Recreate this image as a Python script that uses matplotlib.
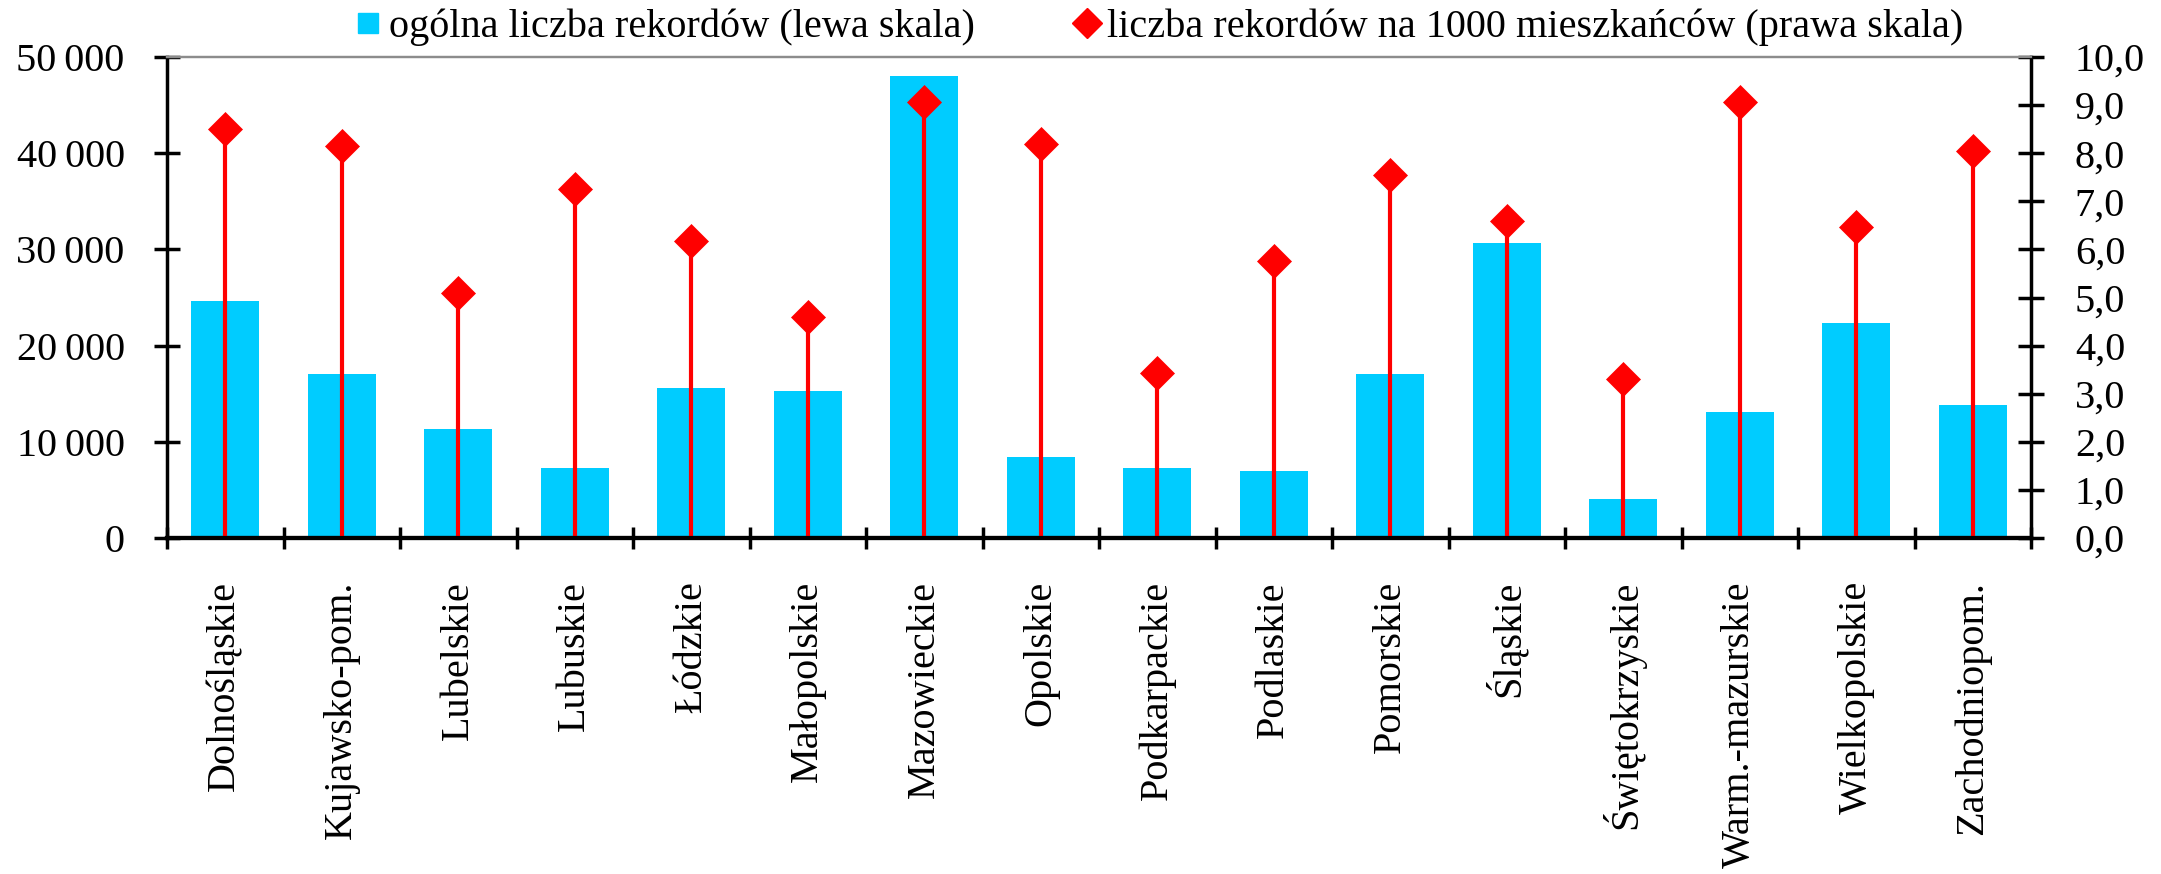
import matplotlib
matplotlib.use("Agg")
import matplotlib.pyplot as plt
from matplotlib.lines import Line2D
from matplotlib.ticker import FixedLocator, FuncFormatter
import numpy as np

plt.rcParams['font.family'] = ['Liberation Serif', 'DejaVu Serif']

regions = ["Dolnośląskie", "Kujawsko-pom.", "Lubelskie", "Lubuskie", "Łódzkie",
           "Małopolskie", "Mazowieckie", "Opolskie", "Podkarpackie", "Podlaskie",
           "Pomorskie", "Śląskie", "Świętokrzyskie", "Warm.-mazurskie",
           "Wielkopolskie", "Zachodniopom."]
total_records = [24600, 17000, 11300, 7300, 15600, 15300, 48000, 8400,
                 7300, 7000, 17000, 30700, 4100, 13100, 22400, 13800]
records_per_1000 = [8.50, 8.15, 5.10, 7.26, 6.17, 4.60, 9.06, 8.20,
                    3.44, 5.75, 7.54, 6.60, 3.30, 9.06, 6.46, 8.04]
left_ticks = [0, 10000, 20000, 30000, 40000, 50000]
right_ticks = [0, 1, 2, 3, 4, 5, 6, 7, 8, 9, 10]
legend_labels = ["ogólna liczba rekordów (lewa skala)",
                 "liczba rekordów na 1000 mieszkańców (prawa skala)"]

BAR_COLOR = "#00CCFF"
RED = "#FF0000"
FS = 29

W, H = 2161, 874
fig = plt.figure(figsize=(W / 100, H / 100), dpi=100)
ax = fig.add_axes([167 / W, 1 - 538 / H, (2031 - 167) / W, (538 - 57) / H])
ax2 = ax.twinx()

x = np.arange(len(regions))
ax.bar(x, total_records, width=0.58, color=BAR_COLOR, zorder=2)
ax2.vlines(x, 0, records_per_1000, color=RED, lw=3, zorder=3)
ax2.plot(x, records_per_1000, linestyle="none", marker="D", ms=17,
         color=RED, mec=RED, mew=0.5, zorder=4, clip_on=False)

ax.set_xlim(-0.5, len(regions) - 0.5)
ax.set_ylim(0, 50000)
ax2.set_ylim(0, 10)

# category labels centred, separators on the boundaries
ax.set_xticks(x)
ax.set_xticklabels(regions, rotation=90, va="top", ha="center")
ax.xaxis.set_minor_locator(FixedLocator(np.arange(-0.5, len(regions), 1.0)))
ax.tick_params(axis="x", which="major", length=0, pad=31, labelsize=FS)
ax.tick_params(axis="x", which="minor", direction="inout", length=16.5,
               width=2.5, color="black")

ax.yaxis.set_major_locator(FixedLocator(left_ticks))
ax.yaxis.set_major_formatter(FuncFormatter(
    lambda v, p: f"{int(v):,}".replace(",", "\u2009")))
ax.tick_params(axis="y", direction="inout", length=19, width=2.5,
               pad=21, labelsize=FS)

ax2.yaxis.set_major_locator(FixedLocator(right_ticks))
ax2.yaxis.set_major_formatter(FuncFormatter(
    lambda v, p: f"{v:.1f}".replace(".", ",")))
ax2.tick_params(axis="y", direction="inout", length=19, width=2.5,
                pad=22, labelsize=FS)

for a in (ax, ax2):
    a.spines["top"].set_color("#8C8C8C")
    a.spines["top"].set_linewidth(1.6)
    a.spines["bottom"].set_linewidth(3)
    a.spines["left"].set_linewidth(2.5)
    a.spines["right"].set_linewidth(2.5)
    a.set_facecolor("none")
ax.spines["right"].set_visible(False)
ax2.spines["left"].set_visible(False)
ax2.spines["bottom"].set_zorder(5)

handles = [
    Line2D([], [], linestyle="none", marker="s", ms=15, color=BAR_COLOR),
    Line2D([], [], linestyle="none", marker="D", ms=15, color=RED),
]
fig.legend(handles, legend_labels, loc="center", bbox_to_anchor=(1160 / W, 1 - 27 / H),
           ncol=2, frameon=False, fontsize=FS, handlelength=0.6,
           handletextpad=0.2, columnspacing=2.5, borderaxespad=0, borderpad=0)

fig.savefig("out.png", dpi=100)
